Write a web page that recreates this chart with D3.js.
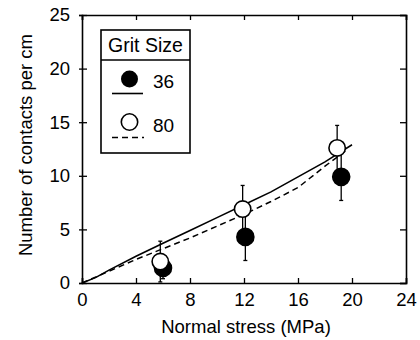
<!DOCTYPE html>
<html><head><meta charset="utf-8">
<script src="https://cdn.jsdelivr.net/npm/d3@7"></script>
<style>body{margin:0;background:#fff}svg{display:block}text{font-family:"Liberation Sans",Arial,sans-serif;fill:#000}</style>
</head><body><svg id="c" width="420" height="340"></svg>
<script>
// Data
const xTicks = [0,4,8,12,16,20,24];
const yTicks = [0,5,10,15,20,25];
// Grit 36 (filled)
const g36X = [6.0, 12.1, 19.2];
const g36Y = [1.4, 4.3, 9.9];
const g36Err = [1.0, 2.2, 2.2];
// Grit 80 (open)
const g80X = [5.8, 11.9, 18.9];
const g80Y = [2.0, 6.9, 12.6];
const g80Err = [1.9, 2.2, 2.1];
// Model curves
const solidX = [0, 1, 2, 4, 6, 8, 10, 12, 14, 16, 18, 20];
const solidY = [0, 0.5, 1.2, 2.5, 3.7, 4.9, 6.1, 7.3, 8.5, 9.9, 11.3, 12.9];
const dashX = [0, 2, 4, 6, 8, 10, 12, 14, 16, 18, 19.6];
const dashY = [0, 1.1, 2.2, 3.2, 4.2, 5.3, 6.4, 7.6, 8.9, 10.9, 12.4];

const svg = d3.select("#c");
const L=82, R=406, T=15, B=283;
const x = d3.scaleLinear().domain([0,24]).range([L,R]);
const y = d3.scaleLinear().domain([0,25]).range([B,T]);

// axes
const axB = svg.append("g").attr("transform",`translate(0,${B})`)
  .call(d3.axisBottom(x).tickValues(xTicks).tickSize(-5).tickPadding(10));
const axT = svg.append("g").attr("transform",`translate(0,${T})`)
  .call(d3.axisTop(x).tickValues(xTicks).tickSize(-5).tickFormat(""));
const axL = svg.append("g").attr("transform",`translate(${L},0)`)
  .call(d3.axisLeft(y).tickValues(yTicks).tickSize(3).tickPadding(10));
axL.selectAll(".tick line").attr("x2",5).attr("x1",-3);
const axR = svg.append("g").attr("transform",`translate(${R},0)`)
  .call(d3.axisRight(y).tickValues(yTicks).tickSize(-6).tickFormat(""));
[axB,axT,axL,axR].forEach(a=>{
  a.select(".domain").attr("stroke-width",1.6);
  a.selectAll(".tick line").attr("stroke-width",1.3);
  a.selectAll("text").style("font-size","18.5px").attr("font-family","Liberation Sans, Arial, sans-serif");
});
axL.selectAll("text").attr("x",-12);

// axis titles
svg.append("text").attr("x",(L+R)/2+2).attr("y",333).attr("text-anchor","middle")
  .style("font-size","18.5px").text("Normal stress (MPa)");
svg.append("text").attr("transform",`translate(32,145) rotate(-90)`).attr("text-anchor","middle")
  .style("font-size","18.5px").text("Number of contacts per cm");

// lines
const line = d3.line().x(d=>x(d[0])).y(d=>y(d[1]));
svg.append("path").datum(solidX.map((v,i)=>[v,solidY[i]])).attr("d",line)
  .attr("fill","none").attr("stroke","#000").attr("stroke-width",1.6);
svg.append("path").datum(dashX.map((v,i)=>[v,dashY[i]])).attr("d",line)
  .attr("fill","none").attr("stroke","#000").attr("stroke-width",1.5).attr("stroke-dasharray","6,4");

// error bars + points
function series(xs,ys,es,filled){
  const g = svg.append("g");
  const d = xs.map((v,i)=>({x:v,y:ys[i],e:es[i]}));
  g.selectAll(null).data(d).enter().append("line")
    .attr("x1",d=>x(d.x)).attr("x2",d=>x(d.x))
    .attr("y1",d=>y(d.y-d.e)).attr("y2",d=>y(d.y+d.e))
    .attr("stroke","#000").attr("stroke-width",1.3);
  [-1,1].forEach(s=>{
    g.selectAll(null).data(d).enter().append("line")
      .attr("x1",d=>x(d.x)-2).attr("x2",d=>x(d.x)+2)
      .attr("y1",d=>y(d.y+s*d.e)).attr("y2",d=>y(d.y+s*d.e))
      .attr("stroke","#000").attr("stroke-width",1.3);
  });
  g.selectAll(null).data(d).enter().append("circle")
    .attr("cx",d=>x(d.x)).attr("cy",d=>y(d.y)).attr("r",filled?8.5:8.2)
    .attr("fill",filled?"#000":"#fff").attr("stroke","#000").attr("stroke-width",1.6);
}
series(g36X,g36Y,g36Err,true);
series(g80X,g80Y,g80Err,false);

// legend
const lg = svg.append("g");
lg.append("rect").attr("x",101).attr("y",30).attr("width",89).attr("height",123)
  .attr("fill","#fff").attr("stroke","#000").attr("stroke-width",1.6);
lg.append("line").attr("x1",101).attr("x2",190).attr("y1",60).attr("y2",60).attr("stroke","#000").attr("stroke-width",1.4);
lg.append("text").attr("x",145.5).attr("y",52).attr("text-anchor","middle").style("font-size","19.5px").text("Grit Size");
lg.append("circle").attr("cx",129.5).attr("cy",79).attr("r",8.5).attr("fill","#000");
lg.append("text").attr("x",153).attr("y",88).style("font-size","19px").text("36");
lg.append("line").attr("x1",112).attr("x2",143).attr("y1",93.5).attr("y2",93.5).attr("stroke","#000").attr("stroke-width",1.6);
lg.append("circle").attr("cx",129.5).attr("cy",122).attr("r",8.2).attr("fill","#fff").attr("stroke","#000").attr("stroke-width",1.6);
lg.append("text").attr("x",153).attr("y",132).style("font-size","19px").text("80");
lg.append("line").attr("x1",112).attr("x2",144).attr("y1",137.5).attr("y2",137.5).attr("stroke","#000").attr("stroke-width",1.5).attr("stroke-dasharray","6,4");
</script></body></html>
